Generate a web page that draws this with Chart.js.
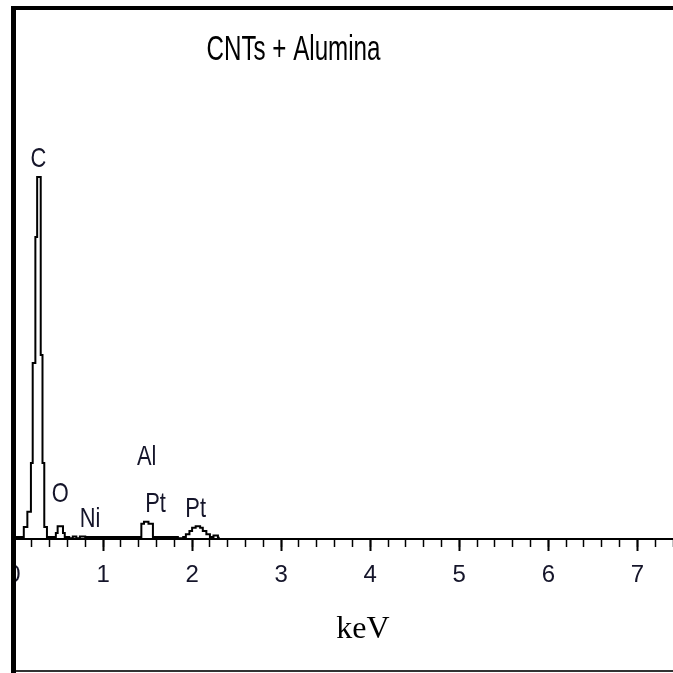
<!DOCTYPE html>
<html>
<head>
<meta charset="utf-8">
<title>CNTs + Alumina EDS</title>
<script src="https://cdn.jsdelivr.net/npm/chart.js@4.4.1/dist/chart.umd.min.js"></script>
<style>
  html, body { margin: 0; padding: 0; background: #ffffff; }
  #wrap { position: relative; width: 673px; height: 673px; }
</style>
</head>
<body>
<div id="wrap"><canvas id="edsChart"></canvas></div>
<script>
// spectrum: step vertices (keV) and counts (arb. units)
// each count holds from its energy up to the next energy
const energy = [0.02, 0.11, 0.15, 0.19, 0.21, 0.24, 0.26, 0.30, 0.32, 0.34, 0.37,
  0.47, 0.49, 0.55, 0.57, 0.62, 0.66, 0.70, 0.74, 0.80,
  1.43, 1.46, 1.51, 1.56, 1.84, 1.90, 1.93, 1.97, 2.00, 2.04, 2.09, 2.12, 2.16, 2.20,
  2.24, 2.29, 2.31];
const counts = [0.5, 3, 6.8, 19, 44, 75.5, 90.5, 46, 19, 3, 0.5,
  1.5, 3.2, 1.5, 0.5, 0.2, 0.6, 0.2, 0.6, 0.5,
  3.8, 4.3, 3.8, 0.5, 0.2, 0.5, 1.2, 2, 2.8, 3.2, 2.8, 2, 1.2, 0.5,
  0.9, 0.3, 0.3];

// element labels: name, energy of label centre, count of label baseline
const peakNames = ["C", "O", "Ni", "Al", "Pt", "Pt"];
const peakEnergy = [0.275, 0.52, 0.855, 1.49, 1.59, 2.04];
const peakLabelCounts = [93, 9.25, 3, 18.5, 6.75, 5.5];

const chartTitle = "CNTs + Alumina";
const axisTitle = "keV";
const xMin = 0;
const xMax = 7.4;
const majorStep = 1;
const minorStep = 0.2;
const yMax = 100;

function drawCondensed(ctx, text, x, y, font, sx, color) {
  ctx.save();
  ctx.translate(x, y);
  ctx.scale(sx, 1);
  ctx.font = font;
  ctx.fillStyle = color;
  ctx.textAlign = "center";
  ctx.textBaseline = "alphabetic";
  ctx.fillText(text, 0, 0);
  ctx.restore();
}

const labelsPlugin = {
  id: "labelsPlugin",
  afterDraw(chart) {
    const ctx = chart.ctx;
    const xs = chart.scales.x;
    const ys = chart.scales.y;

    peakNames.forEach((name, i) => {
      drawCondensed(ctx, name, xs.getPixelForValue(peakEnergy[i]), ys.getPixelForValue(peakLabelCounts[i]),
        "28px 'Liberation Sans', Arial, sans-serif", 0.78, "#15152a");
    });

    drawCondensed(ctx, chartTitle, 293.5, 60, "35px 'Liberation Sans', Arial, sans-serif", 0.69, "#000");
    drawCondensed(ctx, axisTitle, 363, 638, "32px 'Liberation Serif', 'Times New Roman', serif", 1, "#000");

    // frame
    ctx.save();
    ctx.fillStyle = "#ffffff";
    ctx.fillRect(0, 0, 11, 673);
    ctx.fillStyle = "#000000";
    ctx.fillRect(11, 6, 5, 667);
    ctx.fillRect(11, 6, 662, 4);
    ctx.fillStyle = "#333333";
    ctx.fillRect(16, 670, 657, 2);
    ctx.restore();
  }
};

const ctx = document.getElementById("edsChart").getContext("2d");

new Chart(ctx, {
  type: "line",
  data: {
    datasets: [
      {
        label: "CNTs + Alumina",
        data: energy.map((e, i) => ({ x: e, y: counts[i] })),
        borderColor: "#000000",
        borderWidth: 2,
        stepped: "before",
        pointRadius: 0,
        fill: false
      }
    ]
  },
  options: {
    responsive: true,
    maintainAspectRatio: false,
    animation: false,
    layout: {
      padding: { top: 139, left: 14, right: 0, bottom: 0 }
    },
    plugins: {
      legend: { display: false },
      title: { display: false },
      tooltip: { enabled: false }
    },
    scales: {
      x: {
        type: "linear",
        position: "bottom",
        min: xMin,
        max: xMax,
        afterFit(scale) {
          scale.height = 134;
          scale.paddingLeft = 0;
          scale.paddingRight = 0;
        },
        ticks: {
          stepSize: majorStep,
          autoSkip: false,
          maxRotation: 0,
          includeBounds: false,
          padding: 10,
          color: "#15152a",
          font: { family: "'Liberation Sans', Arial, sans-serif", size: 24 }
        },
        grid: {
          drawOnChartArea: false,
          drawTicks: true,
          tickLength: 12,
          tickColor: "#000000",
          tickWidth: 2
        },
        border: {
          display: true,
          color: "#000000",
          width: 2
        }
      },
      xMinor: {
        type: "linear",
        axis: "x",
        position: { y: 0 },
        min: xMin,
        max: xMax,
        afterFit(scale) {
          scale.paddingLeft = 0;
          scale.paddingRight = 0;
        },
        ticks: {
          display: false,
          stepSize: minorStep,
          autoSkip: false,
          includeBounds: false
        },
        grid: {
          drawOnChartArea: false,
          drawTicks: true,
          tickLength: 8,
          tickColor: "#000000",
          tickWidth: 1.5
        },
        border: { display: false }
      },
      y: {
        display: false,
        min: 0,
        max: yMax
      }
    }
  },
  plugins: [labelsPlugin]
});
</script>
</body>
</html>
